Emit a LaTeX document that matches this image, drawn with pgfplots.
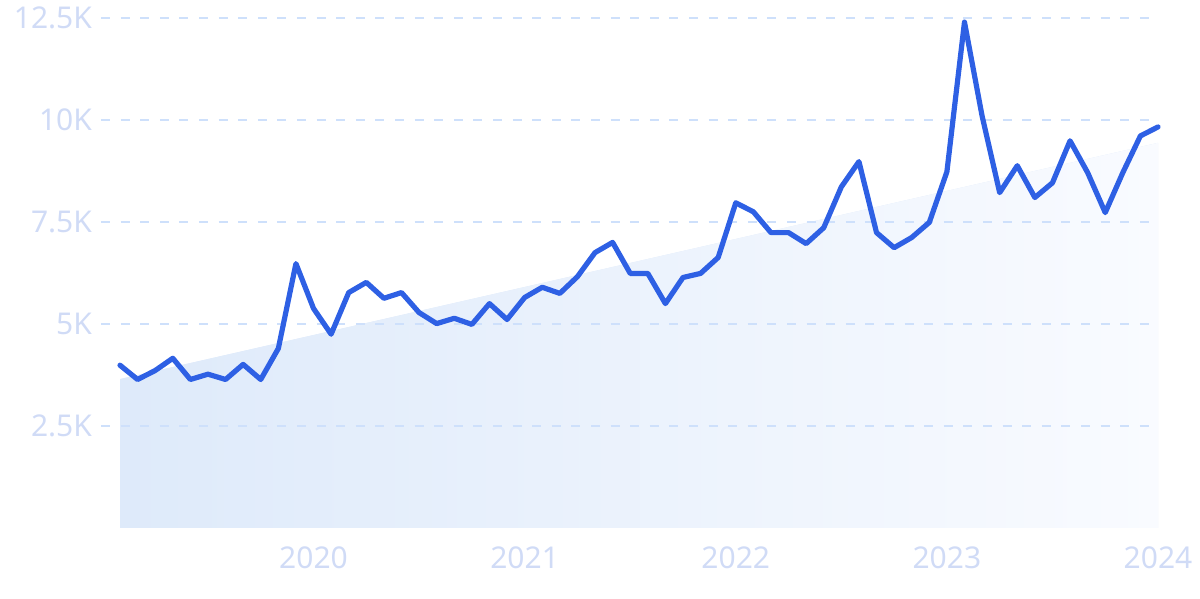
\documentclass[border=0pt]{standalone}
\usepackage{fontspec}
\setmainfont{Noto Sans}
\usepackage{pgfplots}
\pgfplotsset{compat=1.18}
\definecolor{lineblue}{RGB}{46,96,228}
\definecolor{labelc}{RGB}{208,219,246}
\definecolor{gridc}{RGB}{206,224,251}
\definecolor{areaL}{RGB}{222,234,250}
\definecolor{areaR}{RGB}{249,251,255}
\begin{document}
\begin{tikzpicture}
\begin{axis}[
  at={(0,0)}, anchor=south west,
  set layers,
  scale only axis,
  width=528.5pt, height=255pt,
  xmin=-1.08, xmax=59,
  ymin=0, ymax=12500,
  clip=false,
  scaled y ticks=false,
  axis line style={draw=none},
  tick style={draw=none},
  ymajorgrids,
  major grid style={gridc, line width=1pt, dash pattern=on 4.5pt off 5.3pt},
  xtick={11,23,35,47,59},
  xticklabels={2020,2021,2022,2023,2024},
  ytick={2500,5000,7500,10000,12500},
  yticklabels={2.5K,5K,7.5K,10K,12.5K},
  ticklabel style={font=\fontsize{15}{18}\selectfont, text=labelc},
  xticklabel style={yshift=-6pt},
  yticklabel style={xshift=-1pt},
]
% trend area
\addplot[on layer=axis background, draw=none, fill=areaL, shading=axis, left color=areaL, right color=areaR]
  coordinates {(0,0) (0,3650) (59,9440) (59,0)} -- cycle;
% monthly series
\addplot[lineblue, line width=2.6pt, line join=round, line cap=round] coordinates {
(0,3990) (1,3640) (2,3860) (3,4160) (4,3640) (5,3770) (6,3640) (7,4010)
(8,3640) (9,4400) (10,6480) (11,5380) (12,4750) (13,5770) (14,6020) (15,5630)
(16,5770) (17,5280) (18,5010) (19,5140) (20,4990) (21,5500) (22,5110) (23,5650)
(24,5900) (25,5750) (26,6160) (27,6750) (28,7000) (29,6240) (30,6240) (31,5500)
(32,6140) (33,6240) (34,6630) (35,7970) (36,7750) (37,7240) (38,7240) (39,6970)
(40,7360) (41,8360) (42,8980) (43,7240) (44,6870) (45,7120) (46,7490) (47,8730)
(48,12400) (49,10100) (50,8220) (51,8880) (52,8100) (53,8460) (54,9490) (55,8710)
(56,7730) (57,8710) (58,9610) (59,9830)
};
\end{axis}
\path (-50.5pt,-35.5pt) rectangle (549.5pt,264pt);
\end{tikzpicture}
\end{document}
